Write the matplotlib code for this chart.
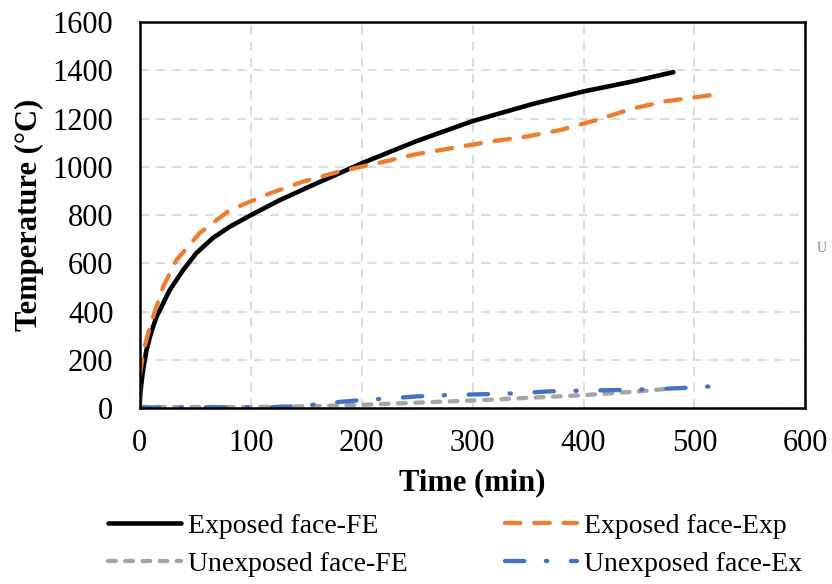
import numpy as np
import matplotlib.pyplot as plt

plt.rcParams['font.family'] = ['Liberation Serif', 'DejaVu Serif']

# exposed face, FE model
fe_exp_t = [0, 0.5, 1.5, 3, 6, 10, 15, 27, 39, 51, 66, 81, 100, 126, 156, 200, 250, 300, 355, 400, 445, 481]
fe_exp_T = [20, 60, 104, 160, 240, 310, 378, 490, 572, 643, 706, 752, 800, 862, 925, 1015, 1108, 1190, 1262, 1313, 1355, 1393]

# exposed face, experiment
ex_exp_t = [0, 0.5, 3, 9, 21, 33, 54, 81, 117, 147, 180, 214, 246, 280, 316, 349, 379, 412, 445, 475, 516]
ex_exp_T = [20, 150, 230, 337, 503, 614, 726, 821, 890, 939, 981, 1015, 1050, 1077, 1105, 1126, 1153, 1195, 1243, 1273, 1298]

# unexposed face, FE model
fe_unexp_t = [0, 100, 150, 200, 250, 300, 350, 400, 450, 480]
fe_unexp_T = [5, 5, 8, 14, 23, 32, 43, 54, 70, 82]

# unexposed face, experiment
ex_unexp_t = [0, 120, 140, 160, 180, 200, 220, 250, 280, 310, 340, 370, 400, 440, 470, 500, 516]
ex_unexp_T = [3, 4, 8, 16, 26, 34, 39, 49, 55, 58, 62, 70, 73, 76, 80, 86, 91]

fig = plt.figure(figsize=(8.32, 5.84), dpi=100)
ax = fig.add_axes([0.168, 0.301, 0.800, 0.661])

l1, = ax.plot(fe_exp_t, fe_exp_T, color='black', lw=3.3, solid_capstyle='round')
l2, = ax.plot(ex_exp_t, ex_exp_T, color='#ED7D31', lw=3.1, dashes=(3.6, 3.2),
              dash_capstyle='round')
l3, = ax.plot(fe_unexp_t, fe_unexp_T, color='#A5A5A5', lw=3.1, dashes=(1.8, 2.2),
              dash_capstyle='round')
l4, = ax.plot(ex_unexp_t, ex_unexp_T, color='#4472C4', lw=3.1, dashes=(4.5, 5.0, 0.3, 5.5),
              dash_capstyle='round')

ax.set_xlim(0, 600)
ax.set_ylim(0, 1600)
ax.set_xticks(range(0, 601, 100))
ax.set_yticks(range(0, 1601, 200))
ax.grid(True, color='#D9D9D9', ls=(0, (5, 4)), lw=1.3)
ax.tick_params(labelsize=22, length=0)
ax.tick_params(axis='x', pad=15)
ax.tick_params(axis='y', pad=19)
for s in ax.spines.values():
    s.set_linewidth(1.8)
    s.set_color('black')

ax.set_xlabel('Time (min)', fontsize=22, fontweight='bold', labelpad=7)
ax.set_ylabel('Temperature (°C)', fontsize=22, fontweight='bold', labelpad=6)

fig.text(0.988, 0.575, 'U', fontsize=10, color='#808080', ha='center', va='center')

# legend filled column-wise, so order handles to read row by row
handles = [l1, l3, l2, l4]
labels = ['Exposed face-FE', 'Unexposed face-FE', 'Exposed face-Exp', 'Unexposed face-Ex']
fig.legend(handles, labels, loc='lower left', bbox_to_anchor=(0.107, -0.021), ncol=2,
           frameon=False, fontsize=20, handlelength=2.6, handletextpad=0.25,
           columnspacing=3.5, labelspacing=0.45, borderpad=0.2)

fig.savefig('out.png', dpi=100)
